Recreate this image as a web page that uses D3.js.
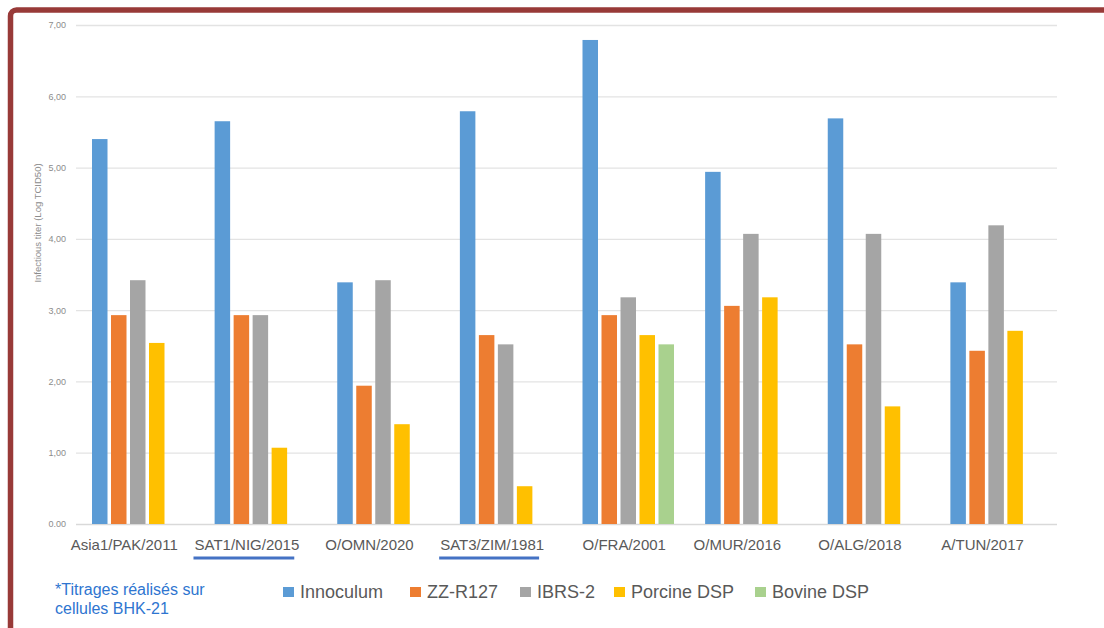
<!DOCTYPE html>
<html>
<head>
<meta charset="utf-8">
<script src="https://cdn.jsdelivr.net/npm/d3@7"></script>
<style>
  body { margin: 0; background: #fff; }
  svg { display: block; font-family: "Liberation Sans", Arial, sans-serif; }
</style>
</head>
<body>
<div id="chart"></div>
<script>
// categories (virus strains) and series
const categories = ["Asia1/PAK/2011", "SAT1/NIG/2015", "O/OMN/2020", "SAT3/ZIM/1981",
                    "O/FRA/2001", "O/MUR/2016", "O/ALG/2018", "A/TUN/2017"];
const series = ["Innoculum", "ZZ-R127", "IBRS-2", "Porcine DSP", "Bovine DSP"];
const colors = ["#5b9bd5", "#ed7d31", "#a5a5a5", "#ffc000", "#a9d18e"];

// infectious titer values (Log TCID50), one array per series
const innoculum  = [5.40, 5.65, 3.39, 5.79, 6.79, 4.94, 5.69, 3.39];
const zzR127     = [2.93, 2.93, 1.94, 2.65, 2.93, 3.06, 2.52, 2.43];
const ibrs2      = [3.42, 2.93, 3.42, 2.52, 3.18, 4.07, 4.07, 4.19];
const porcineDSP = [2.54, 1.07, 1.40, 0.53, 2.65, 3.18, 1.65, 2.71];
const bovineDSP  = [null, null, null, null, 2.52, null, null, null];

const yTicks = [0, 1, 2, 3, 4, 5, 6, 7];
const yTickLabels = ["0.00", "1,00", "2,00", "3,00", "4,00", "5,00", "6,00", "7,00"];
const underlined = ["SAT1/NIG/2015", "SAT3/ZIM/1981"];
const noteLines = ["*Titrages réalisés sur", "cellules BHK-21"];

const values = [innoculum, zzR127, ibrs2, porcineDSP, bovineDSP];
const rows = [];
categories.forEach((c, i) => {
  series.forEach((s, j) => {
    if (values[j][i] != null) rows.push({cat: c, key: s, value: values[j][i]});
  });
});

const W = 1104, H = 628;
const svg = d3.select("#chart").append("svg")
  .attr("width", W).attr("height", H);

// red frame of the slide
svg.append("rect")
  .attr("x", 10.5).attr("y", 10)
  .attr("width", W + 40).attr("height", H + 40)
  .attr("rx", 6)
  .attr("fill", "none")
  .attr("stroke", "#983a38")
  .attr("stroke-width", 5.5);

// scales
const x0 = d3.scaleBand().domain(categories).range([76, 1057]);
const x1 = d3.scaleBand().domain(series).range([16, 107.5]).paddingInner(0.184);
const y = d3.scaleLinear().domain([0, 7]).range([524, 25]);
const color = d3.scaleOrdinal().domain(series).range(colors);

// gridlines + y labels
const yAxis = svg.append("g")
  .attr("transform", "translate(76,0)")
  .call(d3.axisLeft(y).tickValues(yTicks).tickSize(-(1057 - 76))
    .tickFormat((d, i) => yTickLabels[i]));
yAxis.select(".domain").remove();
yAxis.selectAll(".tick line").attr("stroke", "#e3e3e3").attr("stroke-width", 1.3);
yAxis.selectAll(".tick text")
  .attr("x", -10)
  .attr("fill", "#8c8c8c")
  .style("font-size", "9px")
  .style("font-family", "'Liberation Sans', Arial, sans-serif");
yAxis.selectAll(".tick").filter(d => d === 0).select("line").attr("stroke", "#d9d9d9");

// y title
svg.append("text")
  .attr("transform", "translate(41,223) rotate(-90)")
  .attr("text-anchor", "middle")
  .attr("fill", "#8c8c8c")
  .style("font-size", "9.5px")
  .text("Infectious titer (Log TCID50)");

// bars
svg.append("g")
  .selectAll("rect")
  .data(rows)
  .enter().append("rect")
    .attr("x", d => x0(d.cat) + x1(d.key))
    .attr("y", d => y(d.value))
    .attr("width", x1.bandwidth())
    .attr("height", d => y(0) - y(d.value))
    .attr("fill", d => color(d.key));

// category labels, centred under the bars that are drawn
const catLabels = svg.append("g")
  .selectAll("text")
  .data(categories)
  .enter().append("text")
    .attr("x", c => {
      const r = rows.filter(d => d.cat === c);
      return d3.mean(r, d => x0(c) + x1(d.key) + x1.bandwidth() / 2) - 4;
    })
    .attr("y", 550)
    .attr("text-anchor", "middle")
    .attr("fill", "#595959")
    .style("font-size", "15px")
    .text(c => c);

catLabels.filter(c => underlined.includes(c)).each(function() {
  const b = this.getBBox();
  svg.append("line")
    .attr("x1", b.x - 1).attr("x2", b.x + b.width - 5)
    .attr("y1", 558).attr("y2", 558)
    .attr("stroke", "#4472c4")
    .attr("stroke-width", 3);
});

// note
svg.append("g")
  .selectAll("text")
  .data(noteLines)
  .enter().append("text")
    .attr("x", 55)
    .attr("y", (d, i) => 595 + i * 18.5)
    .attr("fill", "#2e75d0")
    .style("font-size", "16px")
    .text(d => d);

// legend
const legendX = [283, 410, 520, 614, 755];
const legend = svg.append("g")
  .selectAll("g")
  .data(series)
  .enter().append("g")
    .attr("transform", (d, i) => "translate(" + legendX[i] + ",587)");
legend.append("rect")
  .attr("width", 11).attr("height", 10)
  .attr("fill", d => color(d));
legend.append("text")
  .attr("x", 17).attr("y", 11)
  .attr("fill", "#595959")
  .style("font-size", "18px")
  .text(d => d);
</script>
</body>
</html>
